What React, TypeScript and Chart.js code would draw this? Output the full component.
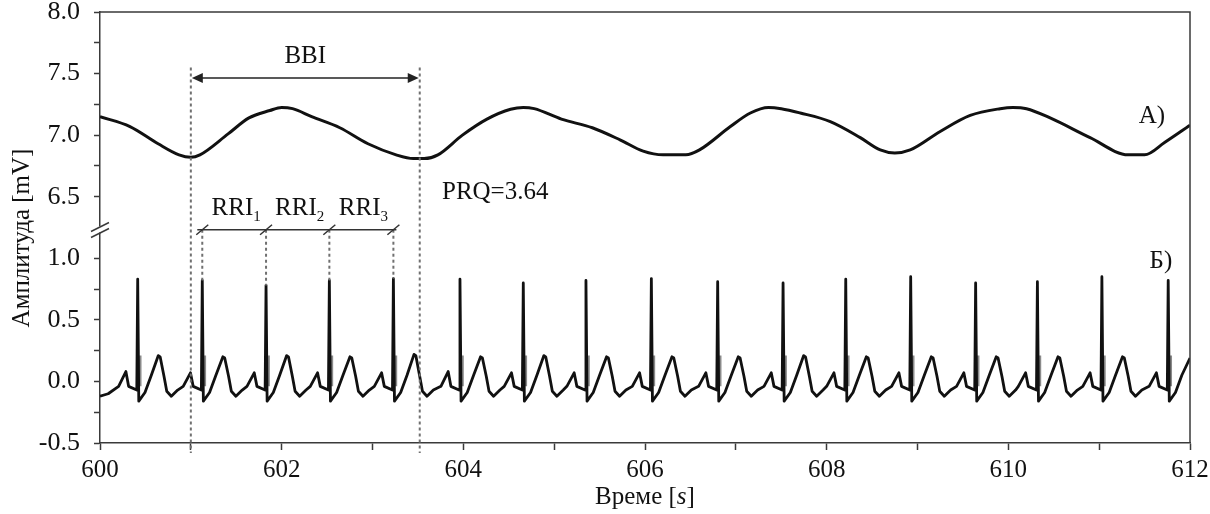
import React, { useEffect, useRef } from "react";
import { Chart, registerables } from "chart.js";

Chart.register(...registerables);

// ---------- axes ----------
const X_MIN = 600;
const X_MAX = 612;
const xTickValues = [600, 601, 602, 603, 604, 605, 606, 607, 608, 609, 610, 611, 612];
const xTickLabels = ["600", "", "602", "", "604", "", "606", "", "608", "", "610", "", "612"];

// Broken value axis: lower panel (ECG) -0.5..1.0, upper panel (BBI) 6.5..8.0.
// Upper values are drawn at (value - BREAK_SHIFT) on the shared axis.
const BREAK_SHIFT = 5.0;
const Y_MIN = -0.5;
const Y_MAX = 3.0;
const BREAK_LEVEL = 1.25;
const yLowerTicks = [-0.5, -0.25, 0, 0.25, 0.5, 0.75, 1.0];
const yUpperTicks = [6.5, 6.75, 7.0, 7.25, 7.5, 7.75, 8.0];
const yMajorTicks = [-0.5, 0, 0.5, 1.0, 6.5, 7.0, 7.5, 8.0];

// ---------- A) smooth BBI signal (mV) ----------
const bbiTime = [
  600.0, 600.33, 600.64, 600.87, 601.0, 601.1, 601.41, 601.64, 601.87, 602.0, 602.12,
  602.33, 602.64, 602.95, 603.26, 603.45, 603.57, 603.72, 603.99, 604.26, 604.52,
  604.66, 604.78, 605.08, 605.42, 605.73, 605.98, 606.2, 606.45, 606.6, 606.94, 607.16,
  607.36, 607.5, 607.71, 608.04, 608.37, 608.59, 608.75, 608.92, 609.25, 609.58,
  609.91, 610.05, 610.2, 610.46, 610.9, 611.32, 611.5, 611.72, 612.0,
];
const bbiValue = [
  7.15, 7.07, 6.93, 6.84, 6.82, 6.84, 7.01, 7.14, 7.2, 7.225, 7.215,
  7.15, 7.06, 6.93, 6.84, 6.81, 6.81, 6.84, 7.0, 7.13, 7.21,
  7.225, 7.215, 7.13, 7.06, 6.96, 6.87, 6.84, 6.84, 6.88, 7.07, 7.18,
  7.225, 7.215, 7.18, 7.11, 6.98, 6.88, 6.855, 6.88, 7.03, 7.16,
  7.215, 7.225, 7.215, 7.14, 6.98, 6.84, 6.84, 6.94, 7.08,
];

// ---------- B) ECG (mV) ----------
const ecgTime = [
  600.0, 600.09,
  600.205, 600.285, 600.315, 600.405, 600.415, 600.427, 600.495, 600.565, 600.642, 600.662, 600.705, 600.735, 600.785, 600.855,
  600.916, 600.996, 601.026, 601.116, 601.126, 601.138, 601.206, 601.276, 601.353, 601.373, 601.416, 601.446, 601.496, 601.566,
  601.618, 601.698, 601.728, 601.818, 601.828, 601.84, 601.908, 601.978, 602.055, 602.075, 602.118, 602.148, 602.198, 602.268,
  602.315, 602.395, 602.425, 602.515, 602.525, 602.537, 602.605, 602.675, 602.752, 602.772, 602.815, 602.845, 602.895, 602.965,
  603.02, 603.1, 603.13, 603.22, 603.23, 603.242, 603.31, 603.38, 603.457, 603.477, 603.52, 603.55, 603.6, 603.67,
  603.753, 603.833, 603.863, 603.953, 603.963, 603.975, 604.043, 604.113, 604.19, 604.21, 604.253, 604.283, 604.333, 604.403,
  604.45, 604.53, 604.56, 604.65, 604.66, 604.672, 604.74, 604.81, 604.887, 604.907, 604.95, 604.98, 605.03, 605.1,
  605.14, 605.22, 605.25, 605.34, 605.35, 605.362, 605.43, 605.5, 605.577, 605.597, 605.64, 605.67, 605.72, 605.79,
  605.86, 605.94, 605.97, 606.06, 606.07, 606.082, 606.15, 606.22, 606.297, 606.317, 606.36, 606.39, 606.44, 606.51,
  606.59, 606.67, 606.7, 606.79, 606.8, 606.812, 606.88, 606.95, 607.027, 607.047, 607.09, 607.12, 607.17, 607.24,
  607.31, 607.39, 607.42, 607.51, 607.52, 607.532, 607.6, 607.67, 607.747, 607.767, 607.81, 607.84, 607.89, 607.96,
  608.0, 608.08, 608.11, 608.2, 608.21, 608.222, 608.29, 608.36, 608.437, 608.457, 608.5, 608.53, 608.58, 608.65,
  608.715, 608.795, 608.825, 608.915, 608.925, 608.937, 609.005, 609.075, 609.152, 609.172, 609.215, 609.245, 609.295, 609.365,
  609.43, 609.51, 609.54, 609.63, 609.64, 609.652, 609.72, 609.79, 609.867, 609.887, 609.93, 609.96, 610.01, 610.08,
  610.11, 610.19, 610.22, 610.31, 610.32, 610.332, 610.4, 610.47, 610.547, 610.567, 610.61, 610.64, 610.69, 610.76,
  610.82, 610.9, 610.93, 611.02, 611.03, 611.042, 611.11, 611.18, 611.257, 611.277, 611.32, 611.35, 611.4, 611.47,
  611.55, 611.63, 611.66, 611.75, 611.76, 611.772, 611.84, 611.91, 612.0,
];
const ecgValue = [
  -0.12, -0.1,
  -0.04, 0.08, -0.04, -0.07, 0.83, -0.16, -0.09, 0.05, 0.21, 0.2, 0.04, -0.08, -0.12, -0.07,
  -0.04, 0.07, -0.04, -0.07, 0.82, -0.16, -0.09, 0.05, 0.2, 0.19, 0.04, -0.08, -0.12, -0.07,
  -0.04, 0.07, -0.04, -0.07, 0.78, -0.16, -0.09, 0.05, 0.21, 0.2, 0.04, -0.08, -0.12, -0.07,
  -0.04, 0.07, -0.04, -0.07, 0.82, -0.16, -0.09, 0.05, 0.2, 0.19, 0.04, -0.08, -0.12, -0.07,
  -0.04, 0.07, -0.04, -0.07, 0.835, -0.16, -0.09, 0.05, 0.22, 0.21, 0.04, -0.08, -0.12, -0.07,
  -0.04, 0.08, -0.04, -0.07, 0.83, -0.16, -0.09, 0.05, 0.2, 0.19, 0.04, -0.08, -0.12, -0.07,
  -0.04, 0.07, -0.04, -0.07, 0.8, -0.16, -0.09, 0.05, 0.21, 0.2, 0.04, -0.08, -0.12, -0.07,
  -0.04, 0.07, -0.04, -0.07, 0.82, -0.16, -0.09, 0.05, 0.2, 0.19, 0.04, -0.08, -0.12, -0.07,
  -0.04, 0.07, -0.04, -0.07, 0.835, -0.16, -0.09, 0.05, 0.2, 0.19, 0.04, -0.08, -0.12, -0.07,
  -0.04, 0.07, -0.04, -0.07, 0.81, -0.16, -0.09, 0.05, 0.2, 0.19, 0.04, -0.08, -0.12, -0.07,
  -0.04, 0.07, -0.04, -0.07, 0.8, -0.16, -0.09, 0.05, 0.21, 0.2, 0.04, -0.08, -0.12, -0.07,
  -0.04, 0.07, -0.04, -0.07, 0.83, -0.16, -0.09, 0.05, 0.2, 0.19, 0.04, -0.08, -0.12, -0.07,
  -0.04, 0.07, -0.04, -0.07, 0.85, -0.16, -0.09, 0.05, 0.2, 0.19, 0.04, -0.08, -0.12, -0.07,
  -0.04, 0.07, -0.04, -0.07, 0.8, -0.16, -0.09, 0.05, 0.2, 0.19, 0.04, -0.08, -0.12, -0.07,
  -0.04, 0.07, -0.04, -0.07, 0.81, -0.16, -0.09, 0.05, 0.2, 0.19, 0.04, -0.08, -0.12, -0.07,
  -0.04, 0.07, -0.04, -0.07, 0.85, -0.16, -0.09, 0.05, 0.2, 0.19, 0.04, -0.08, -0.12, -0.07,
  -0.04, 0.07, -0.04, -0.07, 0.82, -0.16, -0.09, 0.05, 0.19,
];

// grey overlay next to each QRS complex
const qrsMarkTime = [
  600.435, 601.146, 601.848, 602.545, 603.25, 603.983, 604.68, 605.37, 606.09,
  606.82, 607.54, 608.23, 608.945, 609.66, 610.34, 611.05, 611.78,
];
const qrsMarkLow = -0.04;
const qrsMarkHigh = 0.21;

// ---------- annotations ----------
const bbiStart = 601.0;
const bbiEnd = 603.52;
const rriPeakTime = [601.126, 601.828, 602.525, 603.23];
const rriPeakValue = [0.82, 0.78, 0.82, 0.835];
const rriLabels = ["1", "2", "3"];
const RRI_LEVEL = 1.232; // axis units (in the break band)
const prqText = "PRQ=3.64";

const FONT = "'Liberation Serif', 'Times New Roman', serif";
const INK = "#111111";
const AXIS_INK = "#3a3a3a";

const annotationPlugin = {
  id: "annotations",
  afterDatasetsDraw(chart: any) {
    const { ctx, chartArea: ca, scales } = chart;
    const x = scales.x;
    const y = scales.y;
    const px = (t: number) => x.getPixelForValue(t);
    const pyU = (v: number) => y.getPixelForValue(v - BREAK_SHIFT);
    const pyA = (v: number) => y.getPixelForValue(v);
    ctx.save();

    // frame top and right
    ctx.strokeStyle = AXIS_INK;
    ctx.lineWidth = 1.5;
    ctx.beginPath();
    ctx.moveTo(ca.left, ca.top);
    ctx.lineTo(ca.right, ca.top);
    ctx.lineTo(ca.right, ca.bottom);
    ctx.stroke();

    // axis break marks
    const yb = pyA(BREAK_LEVEL) + 2;
    ctx.fillStyle = "#ffffff";
    ctx.fillRect(ca.left - 3, yb - 3, 6, 6);
    ctx.strokeStyle = AXIS_INK;
    ctx.lineWidth = 1.5;
    ctx.beginPath();
    ctx.moveTo(ca.left - 9, yb + 2);
    ctx.lineTo(ca.left + 9, yb - 7);
    ctx.moveTo(ca.left - 9, yb + 8);
    ctx.lineTo(ca.left + 9, yb - 1);
    ctx.stroke();

    // dotted verticals
    ctx.strokeStyle = "#707070";
    ctx.lineWidth = 2;
    ctx.setLineDash([3, 3]);
    for (const t of [bbiStart, bbiEnd]) {
      ctx.beginPath();
      ctx.moveTo(px(t), pyU(7.55));
      ctx.lineTo(px(t), ca.bottom + 10);
      ctx.stroke();
    }
    const yr = pyA(RRI_LEVEL);
    rriPeakTime.forEach((t, i) => {
      ctx.beginPath();
      ctx.moveTo(px(t), yr);
      ctx.lineTo(px(t), pyA(rriPeakValue[i]));
      ctx.stroke();
    });
    ctx.setLineDash([]);

    // BBI double arrow
    const ya = pyU(7.465);
    const x1 = px(bbiStart);
    const x2 = px(bbiEnd);
    ctx.strokeStyle = "#222";
    ctx.fillStyle = "#222";
    ctx.lineWidth = 1.5;
    ctx.beginPath();
    ctx.moveTo(x1 + 4, ya);
    ctx.lineTo(x2 - 4, ya);
    ctx.stroke();
    ctx.beginPath();
    ctx.moveTo(x1 + 1, ya);
    ctx.lineTo(x1 + 12, ya - 5);
    ctx.lineTo(x1 + 12, ya + 5);
    ctx.closePath();
    ctx.fill();
    ctx.beginPath();
    ctx.moveTo(x2 - 1, ya);
    ctx.lineTo(x2 - 12, ya - 5);
    ctx.lineTo(x2 - 12, ya + 5);
    ctx.closePath();
    ctx.fill();

    // RRI bracket
    ctx.strokeStyle = "#333";
    ctx.lineWidth = 1.5;
    ctx.beginPath();
    ctx.moveTo(px(rriPeakTime[0]) - 5, yr);
    ctx.lineTo(px(rriPeakTime[rriPeakTime.length - 1]) + 3, yr);
    ctx.stroke();
    for (const t of rriPeakTime) {
      ctx.beginPath();
      ctx.moveTo(px(t) - 6, yr + 5);
      ctx.lineTo(px(t) + 6, yr - 5);
      ctx.stroke();
    }

    // texts
    ctx.fillStyle = INK;
    ctx.textAlign = "center";
    ctx.textBaseline = "middle";
    ctx.font = `25px ${FONT}`;
    ctx.fillText("BBI", (x1 + x2) / 2, pyU(7.64));

    const yRriBase = pyA(1.352);
    for (let i = 0; i < rriLabels.length; i++) {
      const cx = (px(rriPeakTime[i]) + px(rriPeakTime[i + 1])) / 2 + 2;
      ctx.font = `25px ${FONT}`;
      const w1 = ctx.measureText("RRI").width;
      ctx.font = `15px ${FONT}`;
      const w2 = ctx.measureText(rriLabels[i]).width;
      const left = cx - (w1 + w2) / 2;
      ctx.textAlign = "left";
      ctx.textBaseline = "alphabetic";
      ctx.font = `25px ${FONT}`;
      ctx.fillText("RRI", left, yRriBase);
      ctx.font = `15px ${FONT}`;
      ctx.fillText(rriLabels[i], left + w1, yRriBase + 6);
    }

    ctx.textAlign = "left";
    ctx.textBaseline = "middle";
    ctx.font = `25px ${FONT}`;
    ctx.fillText(prqText, px(603.765), pyU(6.535));

    ctx.textAlign = "center";
    ctx.fillText("А)", px(611.58), pyU(7.148));
    ctx.fillText("Б)", px(611.68), pyA(0.978));

    // axis titles
    ctx.save();
    ctx.translate(22, 238);
    ctx.rotate(-Math.PI / 2);
    ctx.textAlign = "center";
    ctx.textBaseline = "middle";
    ctx.font = `25px ${FONT}`;
    ctx.fillText("Амплитуда [mV]", 0, 0);
    ctx.restore();

    const p1 = "Време [";
    const p2 = "s";
    const p3 = "]";
    ctx.font = `25px ${FONT}`;
    const w1 = ctx.measureText(p1).width;
    const w3 = ctx.measureText(p3).width;
    ctx.font = `italic 25px ${FONT}`;
    const w2 = ctx.measureText(p2).width;
    const cxT = (ca.left + ca.right) / 2;
    let lx = cxT - (w1 + w2 + w3) / 2;
    const ty = 497;
    ctx.textAlign = "left";
    ctx.font = `25px ${FONT}`;
    ctx.fillText(p1, lx, ty);
    lx += w1;
    ctx.font = `italic 25px ${FONT}`;
    ctx.fillText(p2, lx, ty);
    lx += w2;
    ctx.font = `25px ${FONT}`;
    ctx.fillText(p3, lx, ty);

    ctx.restore();
  },
};

export default function App() {
  const ref = useRef<HTMLCanvasElement>(null);

  useEffect(() => {
    const bbiData = bbiTime.map((t, i) => ({ x: t, y: bbiValue[i] - BREAK_SHIFT }));
    const ecgData = ecgTime.map((t, i) => ({ x: t, y: ecgValue[i] }));
    const markData: any[] = [];
    qrsMarkTime.forEach((t) => {
      markData.push({ x: t, y: qrsMarkLow });
      markData.push({ x: t, y: qrsMarkHigh });
      markData.push({ x: t, y: null });
    });
    const yTicks = [...yLowerTicks, ...yUpperTicks.map((v) => v - BREAK_SHIFT)];

    const chart = new Chart(ref.current as HTMLCanvasElement, {
      type: "line",
      data: {
        datasets: [
          {
            label: "A) BBI",
            data: bbiData,
            borderColor: INK,
            borderWidth: 3,
            pointRadius: 0,
            cubicInterpolationMode: "monotone",
          },
          {
            label: "Б) ECG",
            data: ecgData,
            borderColor: INK,
            borderWidth: 2.8,
            pointRadius: 0,
            tension: 0,
            borderJoinStyle: "round",
          },
          {
            label: "QRS",
            data: markData,
            borderColor: "#8a8a8a",
            borderWidth: 4,
            pointRadius: 0,
            spanGaps: false,
          },
        ],
      } as any,
      options: {
        responsive: true,
        maintainAspectRatio: false,
        animation: false,
        events: [],
        layout: { padding: { top: 12, right: 20, left: 0, bottom: 0 } },
        plugins: { legend: { display: false }, tooltip: { enabled: false } },
        scales: {
          x: {
            type: "linear",
            min: X_MIN,
            max: X_MAX,
            afterBuildTicks: (s: any) => {
              s.ticks = xTickValues.map((v) => ({ value: v }));
            },
            afterFit: (s: any) => {
              s.height = 71;
              s.paddingLeft = 0;
              s.paddingRight = 0;
            },
            ticks: {
              autoSkip: false,
              maxRotation: 0,
              padding: 5,
              color: INK,
              font: { family: FONT, size: 25 },
              callback: (v: any) => xTickLabels[xTickValues.indexOf(Number(v))] ?? "",
            },
            grid: { drawOnChartArea: false, tickLength: 7, tickColor: AXIS_INK, tickWidth: 1.5 },
            border: { color: AXIS_INK, width: 1.5 },
          },
          y: {
            type: "linear",
            min: Y_MIN,
            max: Y_MAX,
            afterBuildTicks: (s: any) => {
              s.ticks = yTicks.map((v) => ({ value: v }));
            },
            afterFit: (s: any) => {
              s.width = 100;
              s.paddingTop = 0;
              s.paddingBottom = 0;
            },
            ticks: {
              autoSkip: false,
              padding: 14,
              color: INK,
              font: { family: FONT, size: 26 },
              callback: (v: any) => {
                const val = Number(v) > BREAK_LEVEL ? Number(v) + BREAK_SHIFT : Number(v);
                const isMajor = yMajorTicks.some((m) => Math.abs(m - val) < 1e-6);
                return isMajor ? val.toFixed(1) : "";
              },
            },
            grid: { drawOnChartArea: false, tickLength: 6, tickColor: AXIS_INK, tickWidth: 1.5 },
            border: { color: AXIS_INK, width: 1.5 },
          },
        },
      } as any,
      plugins: [annotationPlugin],
    });
    return () => chart.destroy();
  }, []);

  return (
    <div style={{ position: "fixed", left: 0, top: 0, width: 1210, height: 514, background: "#ffffff" }}>
      <canvas ref={ref} />
    </div>
  );
}
